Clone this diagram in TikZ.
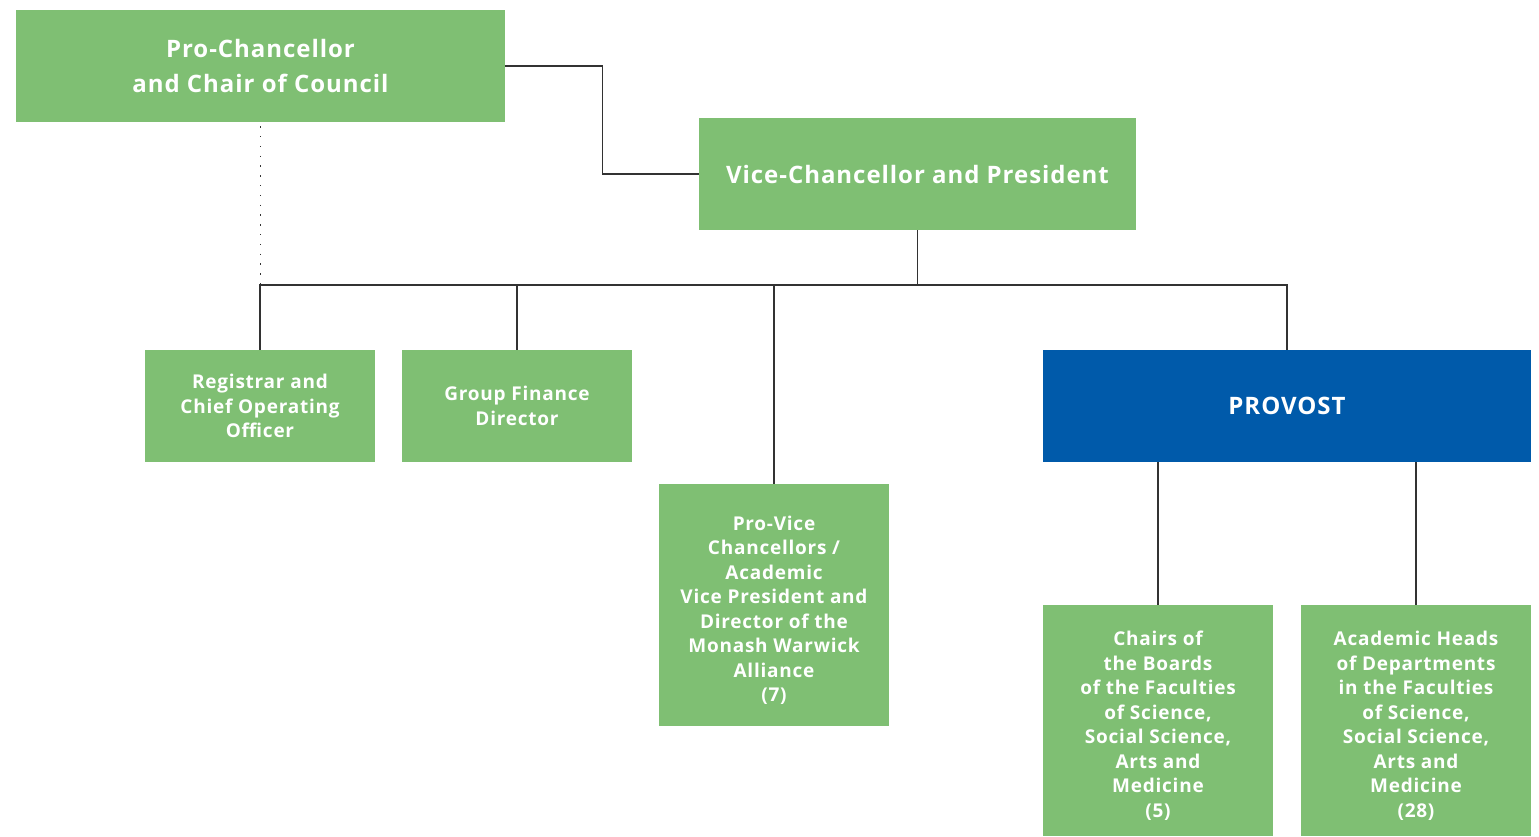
\documentclass[tikz,border=0pt]{standalone}
\usepackage{fontspec}
\setmainfont{Open Sans}[LetterSpace=4]
\definecolor{boxgreen}{RGB}{127,191,115}
\definecolor{provblue}{RGB}{0,90,170}
\definecolor{linegray}{RGB}{50,50,50}
\newcommand{\tallstrut}{\rule{0pt}{25pt}}

\begin{document}
\begin{tikzpicture}[x=1pt,y=-1pt,
  box/.style={fill=boxgreen,text=white,align=center,inner sep=0pt,
    minimum width=230pt,minimum height=112pt,
    font=\bfseries\fontsize{19}{24.5}\selectfont},
  topbox/.style={box,font=\bfseries\fontsize{24}{35}\selectfont},
  link/.style={draw=linegray,line width=1.2pt}]
\useasboundingbox (0,0) rectangle (1539,836);

% top level
\node[topbox,minimum width=489pt] (chancellor) at (260.5,66) {Pro-Chancellor\\and Chair of Council};
\node[topbox,minimum width=437pt] (vc) at (917.5,174) {Vice-Chancellor and President};

% second level
\node[box] (registrar) at (260,406) {Registrar and\\Chief Operating\\Officer};
\node[box] (finance) at (517,406) {Group Finance\\Director};
\node[box,minimum height=242pt] (pvc) at (774,605)
  {\tallstrut Pro-Vice\\Chancellors /\\Academic\\Vice President and\\Director of the\\Monash Warwick\\Alliance\\(7)};
\node[box,fill=provblue,minimum width=488pt,font=\bfseries\fontsize{24}{28}\selectfont] (provost) at (1287,406) {PROVOST};

% under provost
\node[box,minimum height=231pt] (chairs) at (1158,720.5)
  {\tallstrut Chairs of\\the Boards\\of the Faculties\\of Science,\\Social Science,\\Arts and\\Medicine\\(5)};
\node[box,minimum height=231pt] (heads) at (1416,720.5)
  {\tallstrut Academic Heads\\of Departments\\in the Faculties\\of Science,\\Social Science,\\Arts and\\Medicine\\(28)};

\coordinate (bus) at (917.5,285);

\draw[link] (chancellor.east) -- ++(97,0) |- (vc.west);
\draw[link] (vc.south) -- (bus);
\draw[link] (registrar.north) -- (registrar.north |- bus) -- (provost.north |- bus) -- (provost.north);
\draw[link] (finance.north) -- (finance.north |- bus);
\draw[link] (pvc.north) -- (pvc.north |- bus);
\draw[linegray,line width=1.3pt,dash pattern=on 1.3pt off 8.5pt] (chancellor.south) ++(0,4) -- (chancellor.south |- bus);
\draw[link] (chairs.north) -- (chairs.north |- provost.south);
\draw[link] (heads.north) -- (heads.north |- provost.south);
\end{tikzpicture}
\end{document}
